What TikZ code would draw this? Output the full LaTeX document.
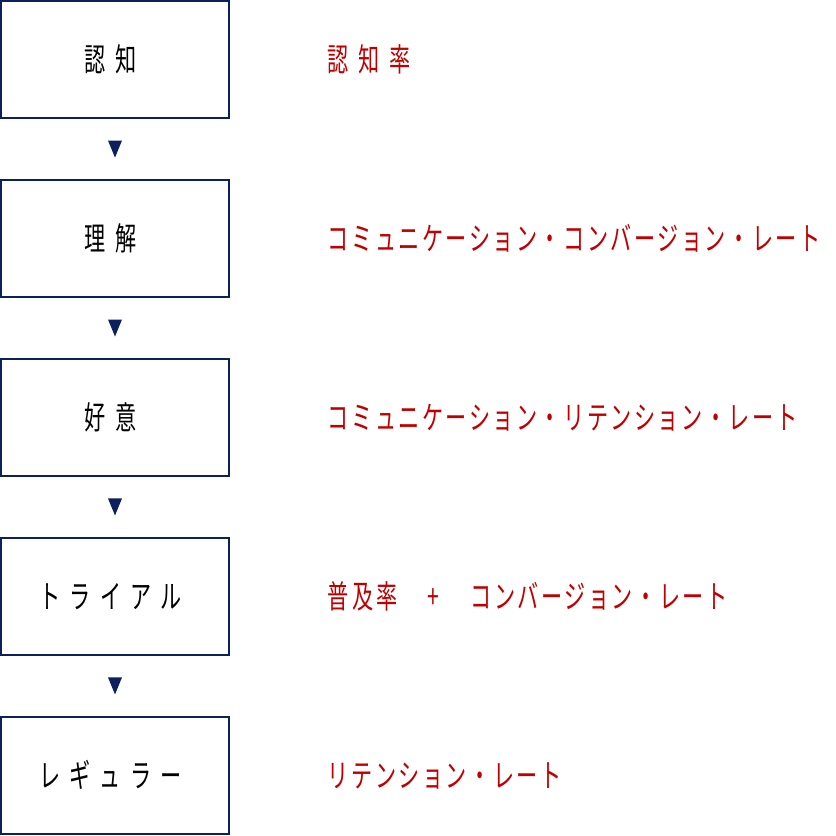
\documentclass[tikz,border=0pt]{standalone}
\usepackage{fontspec}
\usetikzlibrary{positioning,calc}
\newfontfamily\jpbox{Noto Sans CJK JP}[FakeStretch=0.66,LetterSpace=29]
\newfontfamily\jpkanji{Noto Sans CJK JP}[FakeStretch=0.66,LetterSpace=31]
\newfontfamily\jpkana{Noto Sans CJK JP}[FakeStretch=0.66,LetterSpace=7.8]
\newfontfamily\jpmid{Noto Sans CJK JP}[FakeStretch=0.66,LetterSpace=10.6]
\definecolor{navy}{RGB}{12,32,94}
\definecolor{rot}{RGB}{192,0,0}
\tikzset{
  stufe/.style={draw=navy, line width=2.3pt, minimum width=227.6pt, minimum height=117.3pt,
    outer sep=0pt, inner sep=0pt, text height=28.4pt, text depth=4pt,
    font=\fontsize{32pt}{36pt}\jpbox, execute at end node=\kern9pt},
  rate/.style={anchor=west, text=rot, inner sep=0pt, outer sep=0pt,
    text height=28.4pt, text depth=4pt, font=\fontsize{32pt}{36pt}\selectfont},
  pfeil/.style={fill=navy}
}
\begin{document}
\begin{tikzpicture}[x=1pt,y=-1pt]
		\useasboundingbox (0,0) rectangle (836,836);
		% Stufen
		\node[stufe] (k1) at (115,59.6) {認知};
		\node[stufe, below=61.65pt of k1] (k2) {理解};
		\node[stufe, below=61.65pt of k2] (k3) {好意};
		\node[stufe, below=61.65pt of k3] (k4) {トライアル};
		\node[stufe, below=61.65pt of k4] (k5) {レギュラー};
		% Kennzahlen
		\node[rate, right=99pt of k1] (r1) {\jpkanji 認知率};
		\node[rate, right=99pt of k2] (r2) {\jpkana コミュニケーション・コンバージョン・レート};
		\node[rate, right=99pt of k3] (r3) {\jpkana コミュニケーション・リテンション・レート};
		\node[rate, right=99pt of k4] (r4) {\jpmid 普及率\hspace{30pt}\jpkana +\hspace{31pt}コンバージョン・レート};
		\node[rate, right=99pt of k5] (r5) {\jpkana リテンション・レート};
		% Pfeile
		\fill[pfeil] ($(k1.south)!0.5!(k2.north)+(-7,-8.5)$) -- ++(14,0) -- ++(-7,17) -- cycle;
		\fill[pfeil] ($(k2.south)!0.5!(k3.north)+(-7,-8.5)$) -- ++(14,0) -- ++(-7,17) -- cycle;
		\fill[pfeil] ($(k3.south)!0.5!(k4.north)+(-7,-8.5)$) -- ++(14,0) -- ++(-7,17) -- cycle;
		\fill[pfeil] ($(k4.south)!0.5!(k5.north)+(-7,-8.5)$) -- ++(14,0) -- ++(-7,17) -- cycle;
\end{tikzpicture}
\end{document}
